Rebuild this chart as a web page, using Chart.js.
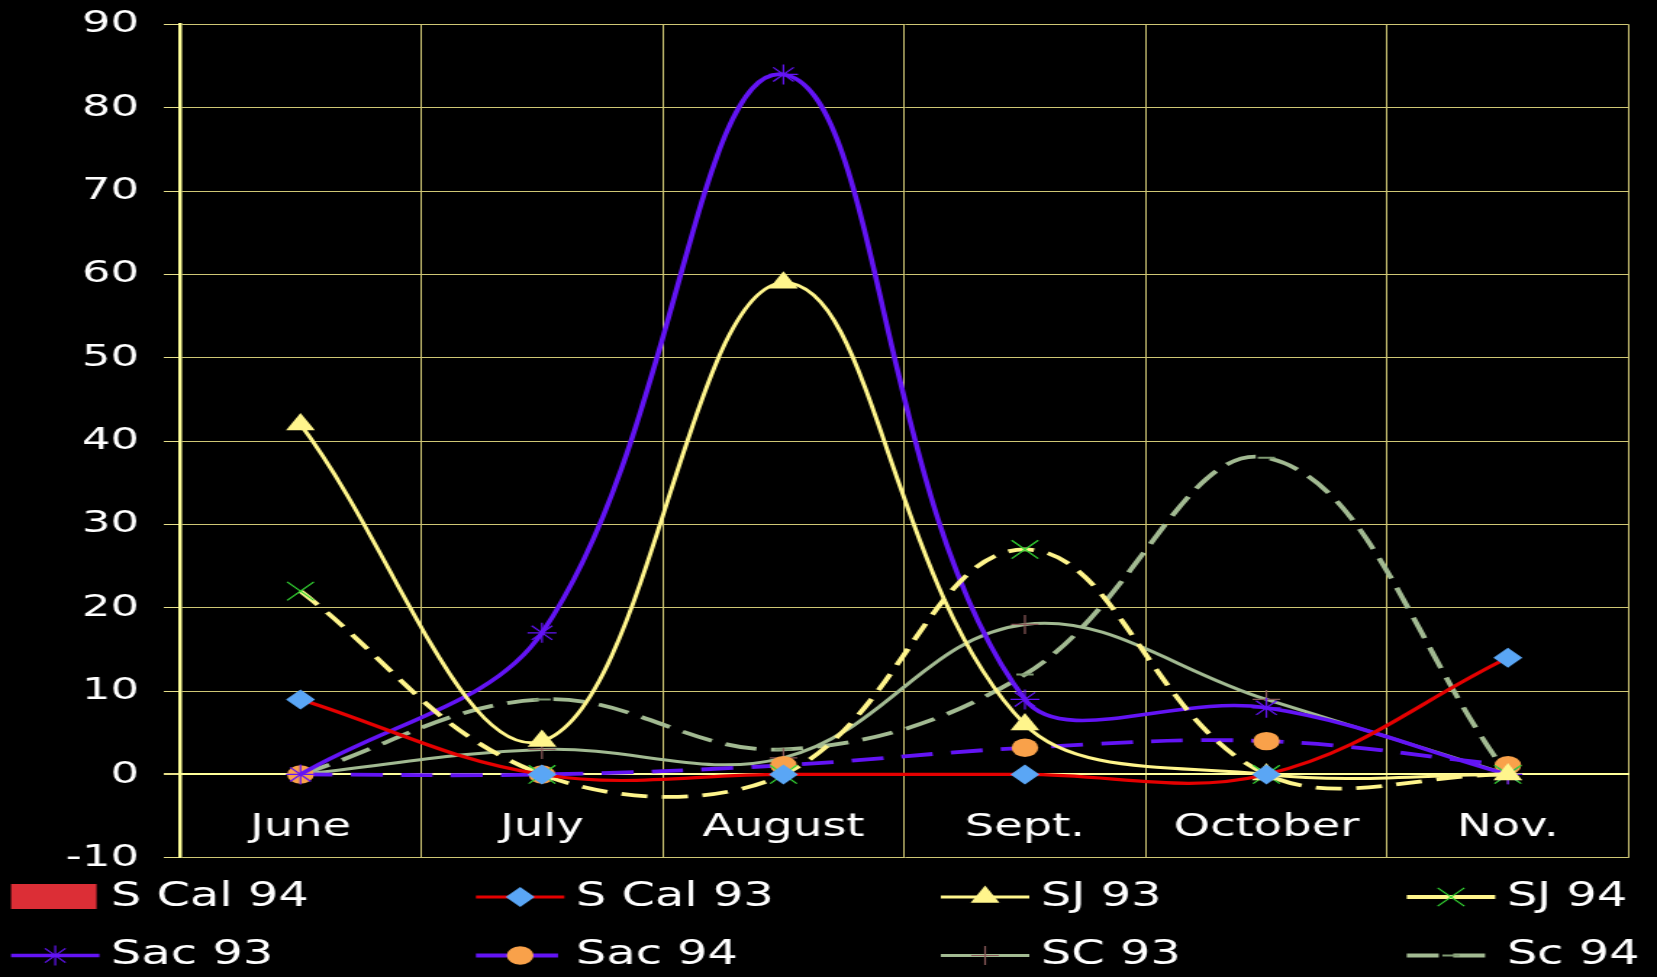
<!DOCTYPE html>
<html>
<head>
<meta charset="utf-8">
<title>Monthly counts by region, 1993–1994</title>
<script src="https://cdn.jsdelivr.net/npm/chart.js@4.4.1/dist/chart.umd.min.js"></script>
<style>
  html, body { margin: 0; padding: 0; background: #000; overflow: hidden; }
  /* the chart is laid out narrow and widened horizontally, like a slide stretched to widescreen */
  #wrap { position: absolute; left: 0; top: 0; width: 1143px; height: 977px;
          transform: scaleX(1.4497); transform-origin: 0 0; }
</style>
</head>
<body>
<div id="wrap"><canvas id="chart"></canvas></div>
<script>
// ---- data ----
const months = ['June', 'July', 'August', 'Sept.', 'October', 'Nov.'];
const sCal94 = [0, 0, 0, 0, 0, 0];
const sCal93 = [9, 0, 0, 0, 0, 14];
const sj93   = [42, 4, 59, 6, 0, 0];
const sj94   = [22, 0, 0, 27, 0, 0];
const sac93  = [0, 17, 84, 9, 8, 0];
const sac94  = [0, 0, 1.1, 3.2, 4, 1.1];
const sc93   = [0, 3, 2, 18, 9, 0];
const sc94   = [0, 9, 3, 12, 38, 0];
const yTicks = { min: -10, max: 90, step: 10 };

// ---- styling ----
const FONT = 'DejaVu Sans';
const RED = '#e50000', YELLOW = '#fff58c', PURPLE = '#6314f5', SAGE = '#a2ba92';
const GRID = '#cfc775', AXIS = '#ffff99';

function lineSet(label, data, color, width, dash, style, radius, fill, stroke, pbw) {
  return {
    type: 'line', label, data,
    borderColor: color, borderWidth: width, borderDash: dash,
    tension: 0.38, fill: false,
    pointStyle: style, pointRadius: radius, pointHoverRadius: radius,
    pointBackgroundColor: fill, pointBorderColor: stroke, pointBorderWidth: pbw
  };
}

const datasets = [
  { type: 'bar', label: 'S Cal 94', data: sCal94, backgroundColor: '#dc2e36', borderWidth: 0 },
  lineSet('S Cal 93', sCal93, RED, 3.2, [], 'rectRot', 10, '#5aa6f5', '#5aa6f5', 0),
  lineSet('SJ 93', sj93, YELLOW, 3, [], 'triangle', 11.5, YELLOW, YELLOW, 0),
  lineSet('SJ 94', sj94, YELLOW, 3.8, [18, 10], 'crossRot', 13, '#33d633', '#33d633', 1.2),
  lineSet('Sac 93', sac93, PURPLE, 3.6, [], 'star', 10, PURPLE, PURPLE, 1.2),
  lineSet('Sac 94', sac94, PURPLE, 3.8, [22, 12.6], 'circle', 9.2, '#f9a14a', '#f9a14a', 0),
  lineSet('SC 93', sc93, SAGE, 3, [], 'cross', 9.5, '#8a5a5a', '#8a5a5a', 1.2),
  lineSet('Sc 94', sc94, SAGE, 3.8, [22, 10], 'line', 6, '#7f9a72', '#7f9a72', 2)
];

// legend in a fixed 4-column grid under the plot
const LEGEND_COL_X = [7.6, 328.3, 649, 970.4];
const LEGEND_ROW_Y = [897, 955.5];
const legendGrid = {
  id: 'legendGrid',
  afterDraw(chart) {
    const ctx = chart.ctx;
    const drawPoint = Chart.helpers && Chart.helpers.drawPoint;
    ctx.save();
    chart.data.datasets.forEach((d, i) => {
      const x0 = LEGEND_COL_X[i % 4];
      const y = LEGEND_ROW_Y[Math.floor(i / 4)];
      const w = 61;
      if (d.type === 'bar') {
        ctx.fillStyle = d.backgroundColor;
        ctx.fillRect(x0, y - 13, w - 2, 25);
      } else {
        ctx.strokeStyle = d.borderColor;
        ctx.lineWidth = d.borderWidth;
        ctx.setLineDash(d.label === 'SJ 94' ? [] : (d.borderDash || []));
        ctx.beginPath();
        ctx.moveTo(x0, y);
        ctx.lineTo(x0 + w, y);
        ctx.stroke();
        ctx.setLineDash([]);
        if (drawPoint) {
          ctx.fillStyle = d.pointBackgroundColor;
          ctx.strokeStyle = d.pointBorderColor;
          ctx.lineWidth = d.pointBorderWidth;
          drawPoint(ctx, { pointStyle: d.pointStyle, radius: d.pointRadius, rotation: 0,
                           borderWidth: d.pointBorderWidth }, x0 + w / 2, y);
        }
      }
      ctx.fillStyle = '#ffffff';
      ctx.font = '33px "' + FONT + '"';
      ctx.textBaseline = 'middle';
      ctx.textAlign = 'left';
      ctx.fillText(d.label, x0 + 69, y);
    });
    ctx.restore();
  }
};

new Chart(document.getElementById('chart'), {
  type: 'line',
  data: { labels: months, datasets },
  plugins: [legendGrid],
  options: {
    responsive: true,
    maintainAspectRatio: false,
    animation: false,
    devicePixelRatio: 1,
    layout: { padding: { top: 24.4, bottom: 119.2, left: 0, right: 19.6 } },
    plugins: { legend: { display: false }, tooltip: { enabled: false } },
    scales: {
      x: {
        position: { y: 0 },
        offset: true,
        grid: { offset: true, color: GRID, lineWidth: 1, tickLength: 11, tickColor: GRID },
        border: { color: AXIS, width: 2 },
        ticks: { color: '#ffffff', font: { family: FONT, size: 32 }, padding: 23, maxRotation: 0 }
      },
      y: {
        min: yTicks.min, max: yTicks.max,
        ticks: { stepSize: yTicks.step, color: '#ffffff', font: { family: FONT, size: 31 }, padding: 17 },
        grid: {
          color: c => (c.tick && c.tick.value === 0) ? AXIS : GRID,
          lineWidth: c => (c.tick && c.tick.value === 0) ? 2 : 1,
          tickLength: 11, tickColor: '#e8e08a'
        },
        border: { color: AXIS, width: 2.5 },
        afterFit(scale) {
          scale.width = 124;
          // the plot edges come from the layout padding alone
          scale.paddingTop = 0;
          scale.paddingBottom = 0;
        }
      }
    }
  }
});
</script>
</body>
</html>
